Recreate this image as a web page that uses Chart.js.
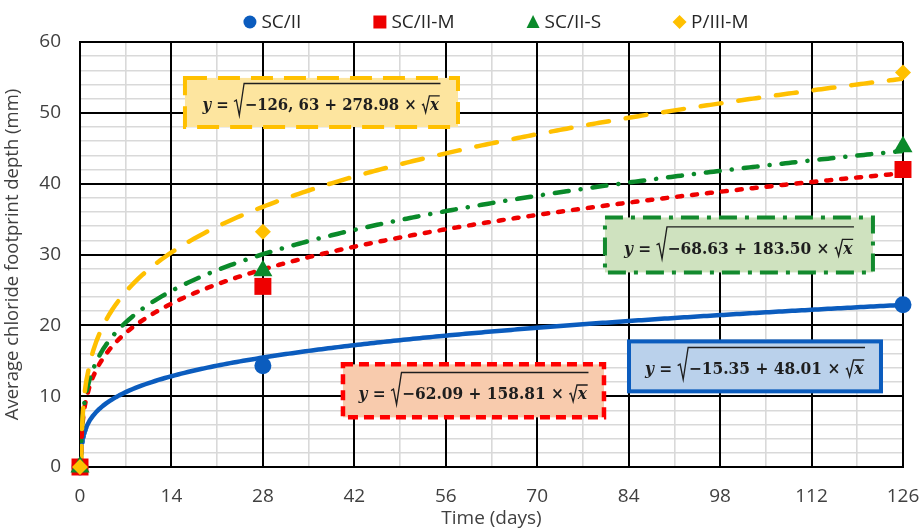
<!DOCTYPE html>
<html>
<head>
<meta charset="utf-8">
<script src="https://cdn.jsdelivr.net/npm/chart.js@4.4.1/dist/chart.umd.min.js"></script>
<style>
  html, body { margin: 0; padding: 0; background: #fff; }
  #wrap { width: 921px; height: 530px; position: relative; }
</style>
</head>
<body>
<div id="wrap"><canvas id="c" width="921" height="530"></canvas></div>
<script>
// Measured chloride footprint depth (mm) versus exposure time (days)
const seriesNames = ['SC/II', 'SC/II-M', 'SC/II-S', 'P/III-M'];
const days   = [0, 28, 126];
const scII   = [0, 14.3, 22.9];
const scIIM  = [0, 25.5, 42.0];
const scIIS  = [0, 27.7, 45.2];
const pIIIM  = [0, 33.2, 55.7];

// Fitted trend: y = sqrt(a + b * sqrt(x))
const fitA = [-15.35, -62.09, -68.63, -126.63];
const fitB = [48.01, 158.81, 183.50, 278.98];
const fitLabelA = ['−15.35', '−62.09', '−68.63', '−126, 63'];
const fitLabelB = ['48.01', '158.81', '183.50', '278.98'];

const xTickStep = 14;
const yTickStep = 10;

const colors = ['#0b5cbe', '#ee0000', '#0a8a2a', '#ffc000'];
const markerStyles = ['circle', 'rect', 'triangle', 'rectRot'];
const markerRadius = [8.5, 12, 11, 8];
const lineDashes = [[], [5, 10], [14, 12, 0.1, 12], [21, 17]];

const FONT = '"Open Sans", "Liberation Sans", sans-serif';
const TXT = '#404040';

// evaluation positions for the fitted curves
function trendPoints(a, b) {
  const x0 = (a / b) * (a / b);
  const xs = [x0];
  for (let k = 1; k <= 40; k++) xs.push(x0 + (1 - x0) * Math.pow(k / 40, 2));
  for (let v = 1.5; v <= 126; v += 0.5) xs.push(v);
  return xs.map(v => ({ x: v, y: Math.sqrt(Math.max(0, a + b * Math.sqrt(v))) }));
}

const measured = [scII, scIIM, scIIS, pIIIM];
const datasets = [];
measured.forEach((vals, i) => {
  datasets.push({
    label: seriesNames[i],
    data: days.map((d, k) => ({ x: d, y: vals[k] })),
    pointStyle: markerStyles[i],
    pointRadius: markerRadius[i],
    pointBackgroundColor: colors[i],
    pointBorderWidth: 0,
    showLine: false,
    clip: false,
    order: 4 - i
  });
});
measured.forEach((vals, i) => {
  datasets.push({
    label: seriesNames[i] + ' trend',
    data: trendPoints(fitA[i], fitB[i]),
    showLine: true,
    pointRadius: 0,
    borderColor: colors[i],
    borderWidth: 4.5,
    borderDash: lineDashes[i],
    borderCapStyle: 'round',
    borderJoinStyle: 'round',
    tension: 0,
    order: 10 - i
  });
});

// equation boxes, positioned in data units
const boxes = [
  { s: 3, x1: 16.07, x2: 57.87, y1: 54.93, y2: 48.0, w: 238, fill: '#fde59f', stroke: '#ffc000', lw: 4, dash: [22, 11] },
  { s: 2, x1: 80.37, x2: 121.4, y1: 35.23, y2: 27.47, w: 230, fill: '#cfe2bf', stroke: '#138a2e', lw: 4, dash: [18, 8, 4, 8] },
  { s: 1, x1: 40.26, x2: 80.22, y1: 14.49, y2: 7.01, w: 230, fill: '#f8cbad', stroke: '#ff0000', lw: 4.5, dash: [10, 6] },
  { s: 0, x1: 84.05, x2: 122.63, y1: 17.73, y2: 10.68, w: 220, fill: '#bad1eb', stroke: '#0b5cbe', lw: 4, dash: [] }
];

function drawEquation(ctx, cx, base, aTxt, bTxt, width) {
  const f = 16;
  const fam = '"DejaVu Serif", "Liberation Serif", serif';
  const fB = 'bold ' + f + 'px ' + fam;
  const fBI = 'italic bold ' + f + 'px ' + fam;
  const inner = aTxt + ' + ' + bTxt + ' × ';
  ctx.font = fBI; const wy = ctx.measureText('y').width; const wx = ctx.measureText('x').width;
  ctx.font = fB; const weq = ctx.measureText(' = ').width; const wIn = ctx.measureText(inner).width;
  const r1 = 0.72 * f, r2 = 0.55 * f;
  const total = wy + weq + r1 + wIn + r2 + wx + 0.1 * f;
  const sx = width / total;
  ctx.save();
  ctx.translate(cx - width / 2, 0);
  ctx.scale(sx, 1);
  ctx.fillStyle = '#1e1e1e';
  ctx.strokeStyle = '#1e1e1e';
  ctx.textAlign = 'left';
  ctx.textBaseline = 'alphabetic';
  let p = 0;
  ctx.font = fBI; ctx.fillText('y', p, base); p += wy;
  ctx.font = fB; ctx.fillText(' = ', p, base); p += weq;
  const end = p + r1 + wIn + r2 + wx + 0.1 * f;
  // outer radical
  ctx.lineWidth = 1.4;
  ctx.lineJoin = 'miter';
  ctx.beginPath();
  ctx.moveTo(p, base - 0.55 * f);
  ctx.lineTo(p + 0.16 * f, base - 0.64 * f);
  ctx.lineTo(p + 0.36 * f, base + 0.32 * f);
  ctx.lineTo(p + 0.68 * f, base - 1.68 * f);
  ctx.lineTo(end, base - 1.68 * f);
  ctx.stroke();
  p += r1;
  ctx.fillText(inner, p, base); p += wIn;
  // inner radical
  ctx.beginPath();
  ctx.moveTo(p, base - 0.32 * f);
  ctx.lineTo(p + 0.1 * f, base - 0.38 * f);
  ctx.lineTo(p + 0.25 * f, base + 0.14 * f);
  ctx.lineTo(p + 0.5 * f, base - 0.9 * f);
  ctx.lineTo(p + r2 + wx + 0.05 * f, base - 0.9 * f);
  ctx.stroke();
  p += r2;
  ctx.font = fBI; ctx.fillText('x', p, base);
  ctx.restore();
}

// major grid lines drawn above the minor ones
const majorGridPlugin = {
  id: 'majorGrid',
  beforeDatasetsDraw(chart) {
    const { ctx, chartArea: a, scales: { x, y } } = chart;
    ctx.save();
    ctx.strokeStyle = '#000';
    ctx.lineWidth = 2;
    ctx.beginPath();
    x.ticks.forEach(t => {
      if (t.value % xTickStep === 0) {
        const px = Math.round(x.getPixelForValue(t.value));
        ctx.moveTo(px, a.top); ctx.lineTo(px, a.bottom);
      }
    });
    y.ticks.forEach(t => {
      if (t.value % yTickStep === 0) {
        const py = Math.round(y.getPixelForValue(t.value));
        ctx.moveTo(a.left, py); ctx.lineTo(a.right, py);
      }
    });
    ctx.stroke();
    ctx.restore();
  }
};

const eqPlugin = {
  id: 'eqBoxes',
  afterDatasetsDraw(chart) {
    const { ctx, scales: { x, y } } = chart;
    boxes.forEach(bx => {
      const l = x.getPixelForValue(bx.x1), r = x.getPixelForValue(bx.x2);
      const t = y.getPixelForValue(bx.y1), b = y.getPixelForValue(bx.y2);
      ctx.save();
      ctx.fillStyle = bx.fill;
      ctx.fillRect(l, t, r - l, b - t);
      ctx.strokeStyle = bx.stroke;
      ctx.lineWidth = bx.lw;
      ctx.setLineDash(bx.dash);
      ctx.strokeRect(l, t, r - l, b - t);
      ctx.restore();
      drawEquation(ctx, (l + r) / 2, t + 0.66 * (b - t), fitLabelA[bx.s], fitLabelB[bx.s], bx.w);
    });
  }
};

// legend across the top
const legendPlugin = {
  id: 'topLegend',
  afterDraw(chart) {
    const ctx = chart.ctx;
    ctx.save();
    ctx.font = '19px ' + FONT;
    const gapMarker = 5, markerW = 13, gapItem = 72;
    const widths = seriesNames.map(n => markerW + gapMarker + ctx.measureText(n).width);
    const total = widths.reduce((s, w) => s + w, 0) + gapItem * (seriesNames.length - 1);
    let px = 496 - total / 2;
    const cy = 22;
    seriesNames.forEach((n, i) => {
      const mx = px + markerW / 2;
      ctx.fillStyle = colors[i];
      ctx.beginPath();
      if (i === 0) ctx.arc(mx, cy, 6.5, 0, Math.PI * 2);
      else if (i === 1) ctx.rect(mx - 6.5, cy - 6.5, 13, 13);
      else if (i === 2) { ctx.moveTo(mx, cy - 7); ctx.lineTo(mx + 6.5, cy + 6); ctx.lineTo(mx - 6.5, cy + 6); ctx.closePath(); }
      else { ctx.moveTo(mx, cy - 7); ctx.lineTo(mx + 7, cy); ctx.lineTo(mx, cy + 7); ctx.lineTo(mx - 7, cy); ctx.closePath(); }
      ctx.fill();
      ctx.fillStyle = '#262626';
      ctx.textBaseline = 'middle';
      ctx.textAlign = 'left';
      ctx.fillText(n, px + markerW + gapMarker, cy + 1);
      px += widths[i] + gapItem;
    });
    ctx.restore();
  }
};

const tickFont = { family: FONT, size: 19 };

new Chart(document.getElementById('c'), {
  type: 'scatter',
  data: { datasets },
  options: {
    responsive: false,
    animation: false,
    events: [],
    layout: { padding: { top: 42, right: 18, left: 0, bottom: 0 } },
    plugins: { legend: { display: false }, tooltip: { enabled: false } },
    scales: {
      x: {
        type: 'linear', min: 0, max: 126,
        ticks: {
          stepSize: xTickStep / 2, autoSkip: false, maxRotation: 0,
          callback: v => (v % xTickStep === 0 ? String(v) : ''),
          font: tickFont, color: TXT, padding: 18
        },
        grid: {
          drawTicks: false,
          color: c => (c.tick && c.tick.value % xTickStep === 0 ? '#000' : '#d9d9d9'),
          lineWidth: c => (c.tick && c.tick.value % xTickStep === 0 ? 2 : 1.6)
        },
        border: { color: '#000', width: 2 },
        title: { display: true, text: 'Time (days)', font: { family: FONT, size: 19 }, color: TXT, padding: { top: 0, bottom: 0 } },
        afterFit: s => { s.height = 63; s.paddingLeft = 0; s.paddingRight = 0; }
      },
      y: {
        type: 'linear', min: 0, max: 60,
        ticks: {
          stepSize: 2, autoSkip: false,
          callback: v => (v % yTickStep === 0 ? String(v) : ''),
          font: tickFont, color: TXT, padding: 19
        },
        grid: {
          drawTicks: false,
          color: c => (c.tick && c.tick.value % yTickStep === 0 ? '#000' : '#d9d9d9'),
          lineWidth: c => (c.tick && c.tick.value % yTickStep === 0 ? 2 : 1.6)
        },
        border: { color: '#000', width: 2 },
        title: { display: true, text: 'Average chloride footprint depth (mm)', font: { family: FONT, size: 18.5 }, color: TXT, padding: { top: 2, bottom: 0 } },
        afterFit: s => { s.width = 80; s.paddingTop = 0; s.paddingBottom = 0; }
      }
    }
  },
  plugins: [majorGridPlugin, eqPlugin, legendPlugin]
});
</script>
</body>
</html>
